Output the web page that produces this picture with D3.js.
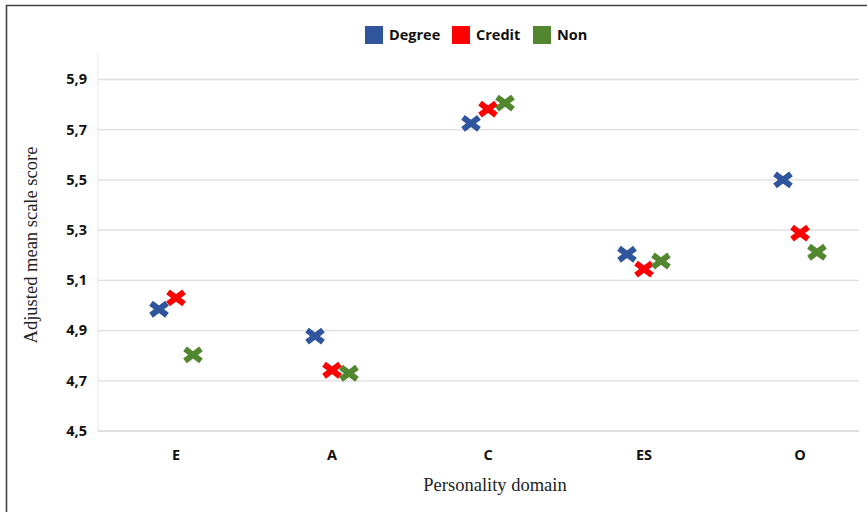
<!DOCTYPE html>
<html lang="en">
<head>
    <meta charset="UTF-8">
    <title>Adjusted mean scale score by personality domain</title>
    <script src="https://cdnjs.cloudflare.com/ajax/libs/d3/7.8.5/d3.min.js"></script>
    <style>
        * { margin: 0; padding: 0; box-sizing: border-box; }
        body { background: #fff; }
        svg { display: block; }
        .tick-label { font-family: "Open Sans", "Liberation Sans", sans-serif; font-weight: bold; font-size: 14.5px; fill: #111; }
        .legend-label { font-family: "Open Sans", "Liberation Sans", sans-serif; font-weight: bold; font-size: 14.5px; fill: #111; }
        .axis-title { font-family: "Liberation Serif", "DejaVu Serif", serif; font-size: 18.5px; fill: #222; }
    </style>
</head>
<body>
<div id="chart"></div>
<script>
    // categories and series
    const domains = ['E', 'A', 'C', 'ES', 'O'];
    const series = ['Degree', 'Credit', 'Non'];
    const colors = ['#2f559c', '#ff0000', '#52872f'];

    // adjusted mean scores, one value per domain
    const degree = [4.985, 4.878, 5.725, 5.204, 5.500];
    const credit = [5.030, 4.742, 5.782, 5.145, 5.288];
    const non    = [4.803, 4.730, 5.806, 5.177, 5.212];

    const yTicks = [4.5, 4.7, 4.9, 5.1, 5.3, 5.5, 5.7, 5.9];

    const width = 867, height = 512;
    const plotLeft = 98, plotRight = 859;

    const svg = d3.select('#chart').append('svg')
        .attr('width', width)
        .attr('height', height);

    // outer frame (top and left edges visible)
    svg.append('path')
        .attr('d', `M6.5,${height} V5.5 H${width}`)
        .attr('fill', 'none')
        .attr('stroke', '#444')
        .attr('stroke-width', 1.6);

    const x = d3.scaleBand().domain(domains).range([plotLeft, 878]).padding(0);
    const offset = d3.scalePoint().domain(series).range([-17, 17]);
    const y = d3.scaleLinear().domain([4.5, 5.9]).range([431, 79.5]);

    // gridlines
    svg.append('g')
        .selectAll('line')
        .data(yTicks)
        .enter().append('line')
        .attr('x1', plotLeft)
        .attr('x2', plotRight)
        .attr('y1', d => y(d))
        .attr('y2', d => y(d))
        .attr('stroke', d => d === 4.5 ? '#d4d4d4' : '#dedede')
        .attr('stroke-width', 1.3);

    // faint vertical axis line
    svg.append('line')
        .attr('x1', plotLeft).attr('x2', plotLeft)
        .attr('y1', 53).attr('y2', y(4.5))
        .attr('stroke', '#e6e6e6')
        .attr('stroke-width', 1);

    // y tick labels
    const fmt = d => d3.format('.1f')(d).replace('.', ',');
    svg.append('g')
        .selectAll('text')
        .data(yTicks)
        .enter().append('text')
        .attr('class', 'tick-label')
        .attr('x', 87)
        .attr('y', d => y(d) + 1)
        .attr('text-anchor', 'end')
        .attr('dominant-baseline', 'middle')
        .text(fmt);

    // x tick labels
    svg.append('g')
        .selectAll('text')
        .data(domains)
        .enter().append('text')
        .attr('class', 'tick-label')
        .attr('x', d => x(d) + x.bandwidth() / 2)
        .attr('y', 456)
        .attr('text-anchor', 'middle')
        .attr('dominant-baseline', 'middle')
        .text(d => d);

    // axis titles
    svg.append('text')
        .attr('class', 'axis-title')
        .attr('x', 495)
        .attr('y', 487)
        .attr('text-anchor', 'middle')
        .attr('dominant-baseline', 'middle')
        .text('Personality domain');

    svg.append('text')
        .attr('class', 'axis-title')
        .attr('transform', 'translate(33,245) rotate(-90)')
        .attr('text-anchor', 'middle')
        .attr('dominant-baseline', 'middle')
        .text('Adjusted mean scale score');

    // markers: thick "x" crosses
    const cross = 'M-8,-6 L8,6 M-8,6 L8,-6';
    const values = [degree, credit, non];
    const points = [];
    series.forEach((s, i) => {
        domains.forEach((d, j) => {
            points.push({ series: s, color: colors[i], domain: d, value: values[i][j] });
        });
    });

    svg.append('g')
        .selectAll('path')
        .data(points)
        .enter().append('path')
        .attr('transform', d => `translate(${x(d.domain) + x.bandwidth() / 2 + offset(d.series)},${y(d.value)})`)
        .attr('d', cross)
        .attr('fill', 'none')
        .attr('stroke', d => d.color)
        .attr('stroke-width', 6)
        .attr('stroke-linecap', 'butt');

    // legend
    const legendX = [365, 452, 533];
    const legend = svg.append('g')
        .selectAll('g')
        .data(series)
        .enter().append('g')
        .attr('transform', (d, i) => `translate(${legendX[i]},26)`);

    legend.append('rect')
        .attr('width', 18)
        .attr('height', 18)
        .attr('fill', (d, i) => colors[i]);

    legend.append('text')
        .attr('class', 'legend-label')
        .attr('x', 24)
        .attr('y', 10)
        .attr('dominant-baseline', 'middle')
        .text(d => d);
</script>
</body>
</html>
